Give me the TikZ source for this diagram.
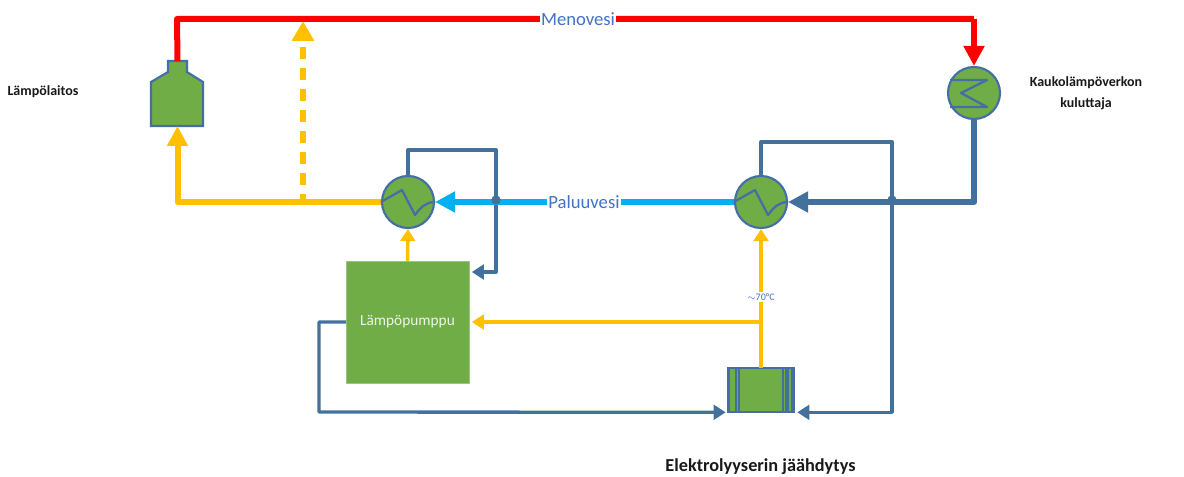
\documentclass[tikz,border=0pt]{standalone}
\usepackage{fontspec}
\setmainfont{Carlito}
\usetikzlibrary{arrows.meta,calc}
\definecolor{gfill}{RGB}{112,173,71}
\definecolor{pipeb}{RGB}{65,113,156}
\definecolor{edgeb}{RGB}{68,110,165}
\definecolor{hot}{RGB}{255,0,0}
\definecolor{warm}{RGB}{255,192,0}
\definecolor{ret}{RGB}{0,176,240}
\definecolor{labelb}{RGB}{68,114,196}
\tikzset{
 x=0.75pt,y=-0.75pt,
 hx/.style={circle,draw=edgeb,fill=gfill,line width=1.6pt,minimum size=39pt,inner sep=0pt},
 bigtip/.style={-{Triangle[length=15pt,width=15pt]}},
 midtip/.style={-{Triangle[length=9pt,width=11pt]}},
 thickpipe/.style={line width=4.5pt,line join=round},
 thinpipe/.style={line width=2.5pt,line join=round},
 coil/.style={draw=edgeb,line width=1.7pt,line join=round},
 pipelabel/.style={fill=white,inner sep=1pt,text=labelb,font=\fontsize{14}{16}\selectfont},
 heading/.style={font=\fontsize{10.5}{15.5}\selectfont\bfseries,text=black!90,align=center},
 joint/.style={circle,fill=pipeb,inner sep=0pt,minimum size=7pt},
 anchorbox/.style={inner sep=0pt,outer sep=0pt},
}
\begin{document}
\begin{tikzpicture}
\useasboundingbox (0,0) rectangle (1184,477);

% equipment reference nodes
\node[anchorbox,minimum width=39pt,minimum height=48.75pt] (plant) at (177.5,93.5) {};
\node[hx] (consumer) at (974,93) {};
\node[hx] (hxL) at (408,202) {};
\node[hx] (hxR) at (761,202) {};
\node[anchorbox,fill=gfill,draw=gfill!70!white,line width=0.5pt,minimum width=92pt,minimum height=91.5pt,
      text=white!88!gfill,font=\fontsize{11.5}{13}\selectfont] (pump) at (407.5,322) {Lämpöpumppu};
\node[anchorbox,fill=gfill,minimum width=50pt,minimum height=33.5pt] (elec) at (761,390) {};

% routing coordinates
\coordinate (redTL) at (177,19);
\coordinate (redTR) at (974,19);
\coordinate (loopLc) at (496,150);
\coordinate (loopRc) at (892,142);
\coordinate (dashBase) at (303,202);
\coordinate (dashTop) at (303,21);
\coordinate (branch) at (761,322);
\coordinate (retCorner) at (974,202);
\coordinate (pumpLoop) at (319,412);

% plant outline
\draw[draw=edgeb,fill=gfill,line width=1.6pt,line join=miter]
  (151,126) -- (151,82) -- (168,72) -- (168,61) -- (187,61) -- (187,72) -- (203,82) -- (203,126) -- cycle;

% thin loops
\draw[pipeb,thinpipe,midtip] (hxL.north) |- (loopLc) |- ($(pump.north east)+(3,11)$);
\draw[pipeb,thinpipe,midtip] (hxR.north) |- (loopRc) |- ($(elec.south east)+(3,0)$);
\draw[pipeb,thinpipe,midtip] (pump.west) -| (pumpLoop) -- ($(elec.south west)+(-2,0)$);

% main pipes
\draw[hot,thickpipe] (plant.north) -- (redTL) -- (redTR);
\draw[hot,thickpipe,bigtip] (redTR) -- (consumer.north);
\draw[pipeb,thickpipe,bigtip] (consumer.south) -- (retCorner) -- (hxR.east);
\draw[ret,thickpipe,bigtip] (hxR.west) -- (hxL.east);
\draw[warm,thickpipe,bigtip] (hxL.west) -| (plant.south);
\draw[warm,thickpipe,dash pattern=on 9pt off 6.7pt,dash phase=3pt,-{Triangle[length=15pt,width=16pt]}] (dashBase) -- (dashTop);

% warm thin pipes
\draw[warm,line width=2.6pt,midtip] (pump.north) -- (hxL.south);
\draw[warm,line width=2.6pt,midtip] (elec.north) -- (hxR.south);
\draw[warm,line width=2.6pt,midtip] (branch) -- ($(pump.east)+(3,0)$);

% crossing joints
\node[joint] (jointL) at (496,200) {};
\node[joint] (jointR) at (892,200) {};

% coils, drawn over the pipe ends
\draw[coil] (hxL.west) -- ($(hxL)+(-6,-12)$) -- ($(hxL)+(7,13)$) .. controls ($(hxL)+(13,5)$) and ($(hxL)+(18,0)$) .. (hxL.east);
\draw[coil] (hxR.west) -- ($(hxR)+(-6,-12)$) -- ($(hxR)+(7,13)$) .. controls ($(hxR)+(13,5)$) and ($(hxR)+(18,0)$) .. (hxR.east);
\draw[coil] (950,80) -- (987,80) -- (961,93) -- (987,107) -- (950,107);

% electrolyser plates
\foreach \a/\b in {727/730,735/736.5,737.5/739.5,781.5/783.5,785/788.5,791/795}{
  \fill[pipeb] (\a,368) rectangle (\b,412);
}
\draw[edgeb,line width=1.6pt] (elec.south west) rectangle (elec.north east);
\draw[warm,line width=2.6pt] (elec.north) -- ++(0,-1);

% labels
\node[pipelabel] (meno) at (578,19) {Menovesi};
\node[pipelabel] (paluu) at (584,202) {Paluuvesi};
\node[fill=white,inner sep=1pt,text=labelb,font=\fontsize{7.5}{9}\selectfont] (temp) at (761,297) {$\sim$70°C};
\node[heading] (lbl1) at (43,92) {Lämpölaitos};
\node[heading] (lbl2) at (1086,93) {Kaukolämpöverkon\\kuluttaja};
\node[heading,font=\fontsize{13.7}{15.5}\selectfont\bfseries] (lbl3) at (760.5,467) {Elektrolyyserin jäähdytys};
\end{tikzpicture}
\end{document}
